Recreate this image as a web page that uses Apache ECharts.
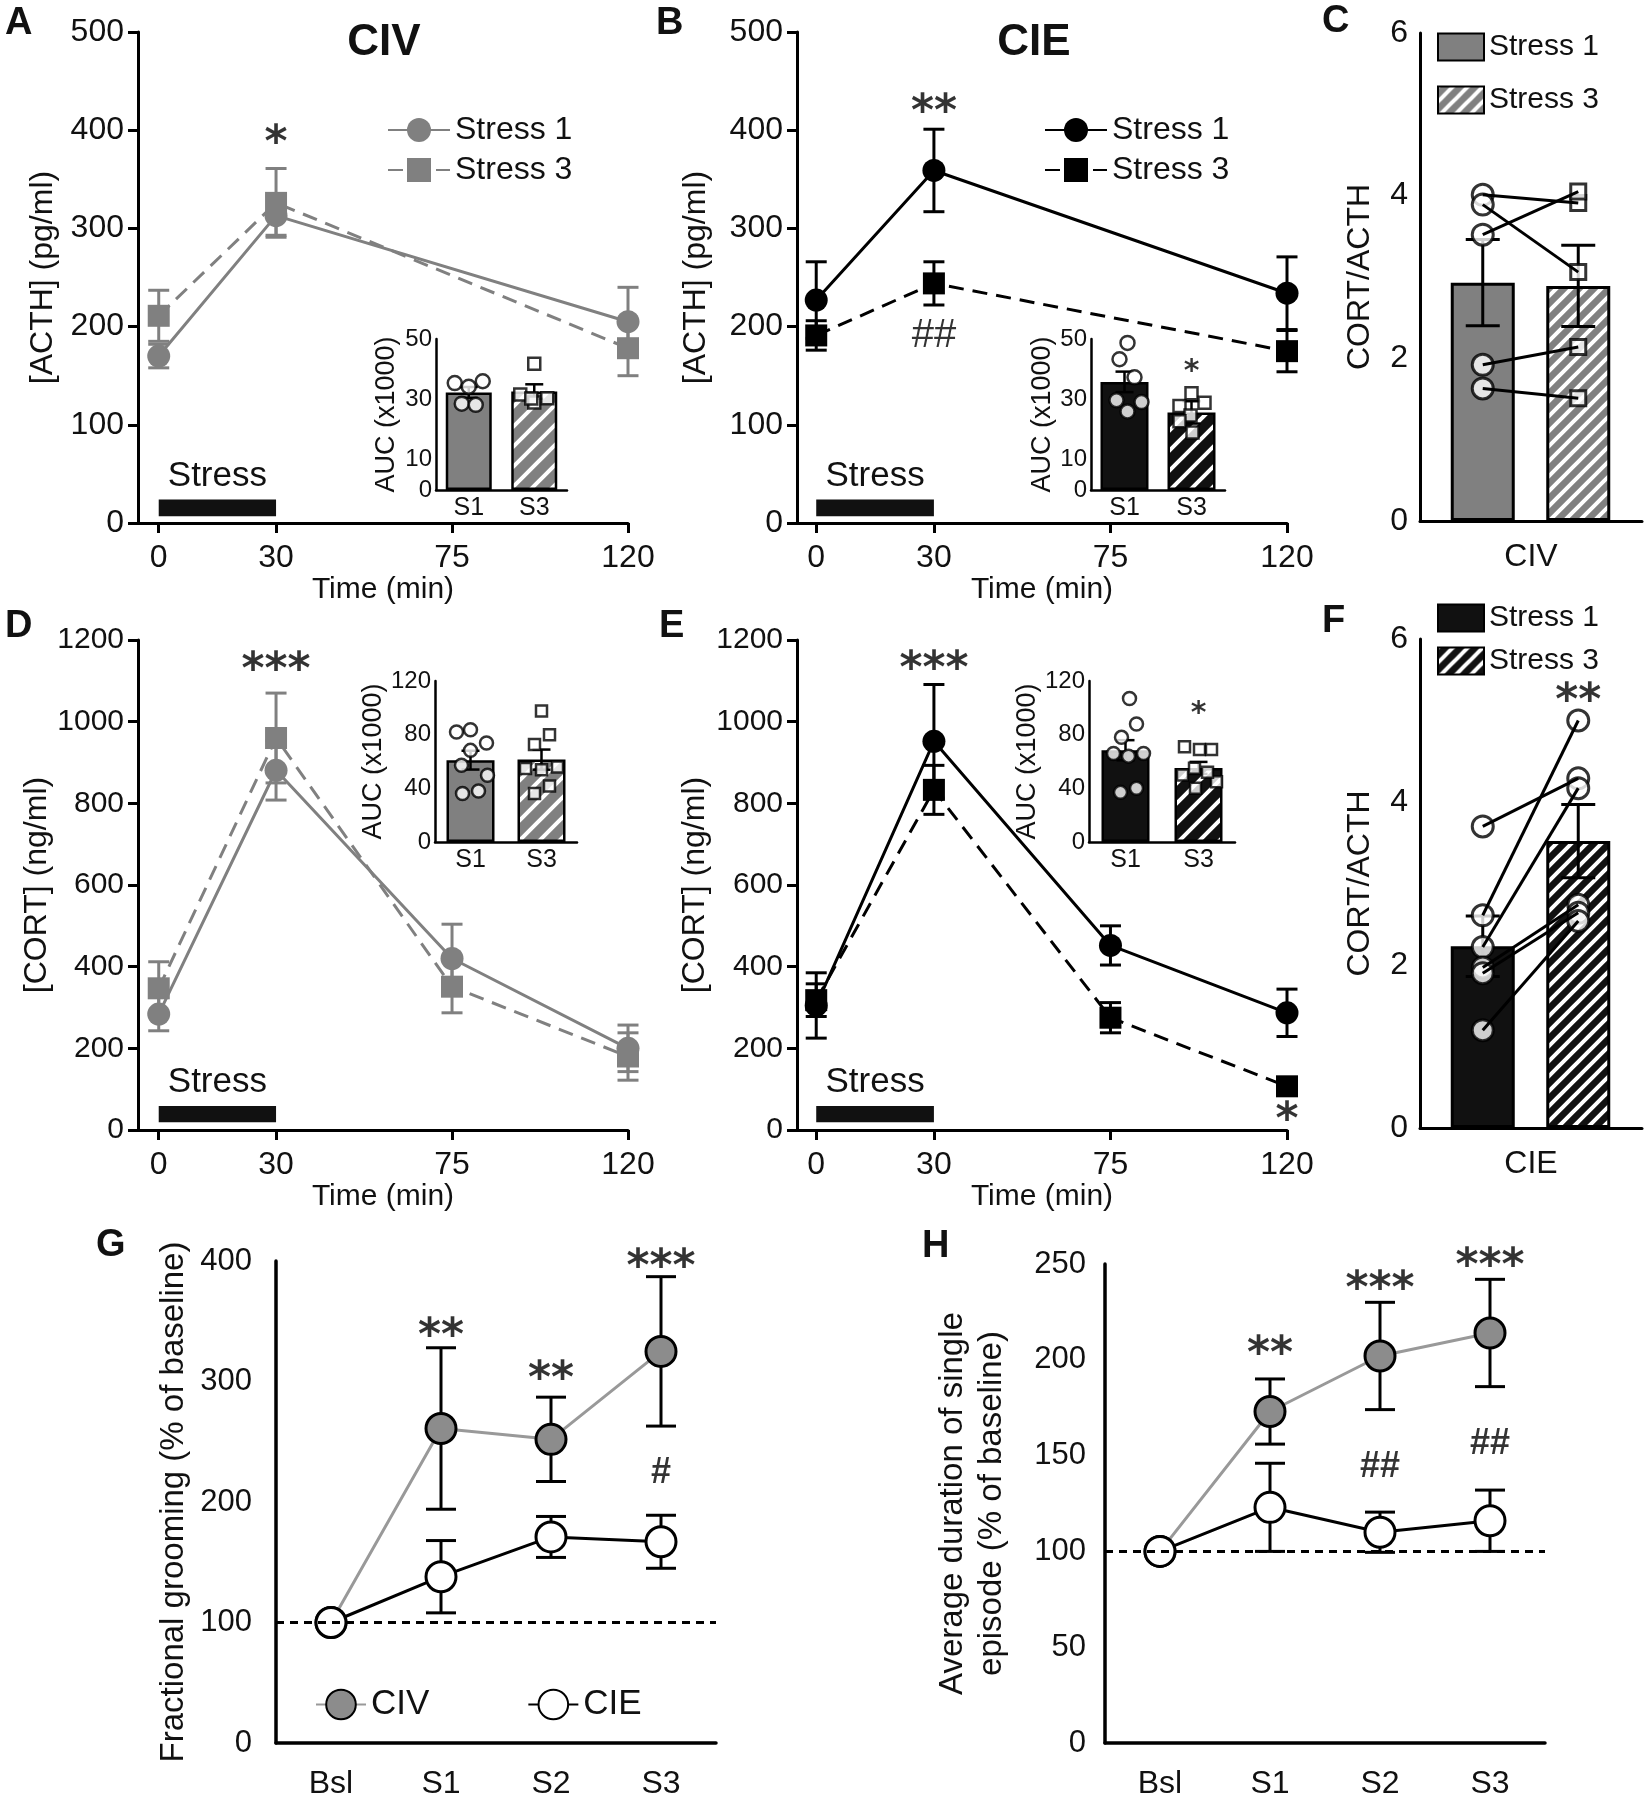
<!DOCTYPE html>
<html>
<head>
<meta charset="utf-8">
<script src="https://cdn.jsdelivr.net/npm/echarts@6/dist/echarts.min.js"></script>
<style>
  html, body { margin: 0; background: #fff; }
  #chart { width: 1647px; height: 1800px; }
</style>
</head>
<body>
<div id="chart"></div>
<script>
// ---- data ----
const timesAB = [0, 30, 120];
const timesDE = [0, 30, 75, 120];
const timeTicks = [0, 30, 75, 120];

// A: ACTH, CIV
const acthCivS1 = [170, 313, 205], acthCivS1Sem = [12, 20, 35];
const acthCivS3 = [211, 326, 178], acthCivS3Sem = [26, 35, 28];
// B: ACTH, CIE
const acthCieS1 = [227, 359, 234], acthCieS1Sem = [39, 42, 37];
const acthCieS3 = [191, 244, 175], acthCieS3Sem = [15, 22, 21];
// D: CORT, CIV
const cortCivS1 = [284, 881, 420, 200], cortCivS1Sem = [41, 73, 84, 57];
const cortCivS3 = [347, 960, 351, 180], cortCivS3Sem = [65, 110, 64, 58];
// E: CORT, CIE
const cortCieS1 = [305, 952, 452, 287], cortCieS1Sem = [80, 139, 48, 58];
const cortCieS3 = [318, 833, 275, 107], cortCieS3Sem = [40, 60, 37, 8];

// insets: AUC (x1000)
const aucLabels = ['S1', 'S3'];
const aucAMean = [32.3, 32.6], aucASem = [1.8, 2.4];
const aucAS1 = [35.4, 34.2, 36.0, 28.6, 28.2];
const aucAS3 = [41.8, 31.6, 30.4, 29.0, 30.3];
const aucBMean = [35.8, 25.7], aucBSem = [3.4, 3.7];
const aucBS1 = [48.7, 43.3, 37.3, 29.7, 29.1, 26.0];
const aucBS3 = [32.0, 27.8, 28.9, 24.7, 22.8, 19.0];
const aucDMean = [61.0, 61.4], aucDSem = [7.0, 7.5];
const aucDS1 = [82.0, 83.7, 73.8, 68.3, 57.2, 49.7, 36.1, 38.0];
const aucDS3 = [97.7, 80.0, 72.6, 54.7, 53.9, 55.9, 41.7, 36.1];
const aucEMean = [68.4, 55.2], aucESem = [7.5, 4.5];
const aucES1 = [107, 88, 78, 66, 66, 64, 37, 40];
const aucES3 = [71, 69, 69, 50, 55, 45, 40, 52];

// C / F: CORT/ACTH ratio, paired animals
const ratioCivMean = [2.93, 2.89], ratioCivSem = [0.53, 0.50];
const ratioCivS1 = [4.01, 3.89, 3.52, 1.92, 1.63];
const ratioCivS3 = [3.91, 3.06, 4.05, 2.14, 1.51];
const ratioCieMean = [2.23, 3.52], ratioCieSem = [0.37, 0.45];
const ratioCieS1 = [3.70, 2.61, 2.22, 1.97, 1.90, 1.20];
const ratioCieS3 = [4.29, 5.00, 4.17, 2.74, 2.64, 2.54];

// G / H: behaviour, % of baseline
const sessions = ['Bsl', 'S1', 'S2', 'S3'];
const groomCiv = [100, 261, 252, 325], groomCivSem = [0, 67, 35, 62];
const groomCie = [100, 138, 171, 167], groomCieSem = [0, 30, 17, 22];
const durCiv = [100, 173, 202, 214], durCivSem = [0, 17, 28, 28];
const durCie = [100, 123, 110, 116], durCieSem = [0, 23, 10.5, 16];

// horizontal scatter of the dots in the insets (px)
const jitA1 = [-14, 0, 14, -7, 7], jitA3 = [0, -14, 13, 0, -3];
const jitB1 = [3, -5, 10, -8, 17, 3], jitB3 = [0, -12, 13, -1, -12, 1];
const jitD1 = [-14, 0, 16, 0, -9, 17, -8, 8], jitD3 = [0, 8, -7, -16, 0, 16, 8, -7];
const jitE1 = [4, 11, -4, -12, 18, 3, -5, 11], jitE3 = [-14, 1, 13, -16, -4, 18, -3, 9];

// ---- styling ----
const FONT = '"Liberation Sans", Arial, sans-serif';
const STAR = '"DejaVu Sans", sans-serif';
const GRAY = '#808080';
const plain = (v) => String(v);

function hatch(bg, fg, size, lw) {
  const c = document.createElement('canvas');
  c.width = c.height = size;
  const g = c.getContext('2d');
  g.fillStyle = bg;
  g.fillRect(0, 0, size, size);
  g.strokeStyle = fg;
  g.lineWidth = lw;
  g.beginPath();
  g.moveTo(0, size); g.lineTo(size, 0);
  g.moveTo(-size / 2, size / 2); g.lineTo(size / 2, -size / 2);
  g.moveTo(size / 2, size * 1.5); g.lineTo(size * 1.5, size / 2);
  g.stroke();
  return {image: c, repeat: 'repeat'};
}
const hatchGray = hatch(GRAY, '#fff', 15, 4);
const hatchBlack = hatch('#111', '#fff', 15, 4);
const hatchGraySmall = hatch(GRAY, '#fff', 20, 4);
const hatchBlackSmall = hatch('#111', '#fff', 20, 4);

const txt = (size, weight) => ({fontSize: size, fontFamily: FONT, fontWeight: weight || 'normal', color: '#111'});
const axLine = (w) => ({show: true, onZero: false, lineStyle: {color: '#000', width: w}});

// ---- axes ----
function xTime(i, min) {
  return {
    gridIndex: i, type: 'value', min: min, max: 120,
    axisLine: axLine(3),
    axisTick: {customValues: timeTicks, length: 10, lineStyle: {color: '#000', width: 3}},
    axisLabel: Object.assign({customValues: timeTicks, margin: 19, formatter: plain}, txt(32)),
    splitLine: {show: false},
    name: 'Time (min)', nameLocation: 'middle', nameGap: 50, nameTextStyle: txt(30)
  };
}
function yMain(i, max, step, name, gap, size) {
  return {
    gridIndex: i, type: 'value', min: 0, max: max, interval: step,
    axisLine: axLine(3),
    axisTick: {length: 10, lineStyle: {color: '#000', width: 3}},
    axisLabel: Object.assign({margin: 14, formatter: plain}, txt(size)),
    splitLine: {show: false},
    name: name, nameLocation: 'middle', nameGap: gap, nameTextStyle: txt(32)
  };
}
function xInset(i) {
  return {
    gridIndex: i, type: 'category', data: aucLabels,
    axisLine: axLine(2.5), axisTick: {show: false},
    axisLabel: Object.assign({margin: 6}, txt(25))
  };
}
function yInset(i, max, ticks, gap) {
  return {
    gridIndex: i, type: 'value', min: 0, max: max,
    axisLine: axLine(2.5),
    axisTick: {customValues: ticks, length: 6, lineStyle: {color: '#000', width: 2.5}},
    axisLabel: Object.assign({customValues: ticks, margin: 4, formatter: plain}, txt(24)),
    splitLine: {show: false},
    name: 'AUC (x1000)', nameLocation: 'middle', nameGap: gap, nameTextStyle: txt(27)
  };
}
function xFrame(i, label) {
  return {
    gridIndex: i, type: 'category', data: [label],
    axisLine: axLine(3), axisTick: {show: false},
    axisLabel: Object.assign({margin: 20}, txt(32))
  };
}
function yRatio(i) {
  return {
    gridIndex: i, type: 'value', min: 0, max: 6, interval: 2,
    axisLine: axLine(3),
    axisTick: {length: 10, lineStyle: {color: '#000', width: 3}},
    axisLabel: Object.assign({margin: 12}, txt(32)),
    splitLine: {show: false},
    name: 'CORT/ACTH', nameLocation: 'middle', nameGap: 44, nameTextStyle: txt(32)
  };
}
const xHidden = (i) => ({gridIndex: i, type: 'category', data: aucLabels, show: false});
const yHidden = (i) => ({gridIndex: i, type: 'value', min: 0, max: 6, show: false});
function xSession(i) {
  return {
    gridIndex: i, type: 'category', data: sessions,
    axisLine: axLine(3.5),
    axisTick: {alignWithLabel: true, length: 14, lineStyle: {color: '#000', width: 3}},
    axisLabel: Object.assign({margin: 25}, txt(32))
  };
}
function ySession(i, max, step, name, gap, lh, margin) {
  return {
    gridIndex: i, type: 'value', min: 0, max: max, interval: step,
    axisLine: axLine(3.5),
    axisTick: {length: 12, lineStyle: {color: '#000', width: 3}},
    axisLabel: Object.assign({margin: margin}, txt(31)),
    splitLine: {show: false},
    name: name, nameLocation: 'middle', nameGap: gap,
    nameTextStyle: Object.assign({lineHeight: lh}, txt(33))
  };
}

// ---- series helpers ----
function errBars(i, xs, means, sems, color, cap, lw, z) {
  return {
    type: 'custom', xAxisIndex: i, yAxisIndex: i, z: z, silent: true, clip: false,
    data: means.map((m, k) => [xs[k], m - sems[k], m + sems[k]]),
    renderItem: (p, api) => {
      if (api.value(2) === api.value(1)) return;
      const top = api.coord([api.value(0), api.value(2)]);
      const bot = api.coord([api.value(0), api.value(1)]);
      const st = {stroke: color, lineWidth: lw};
      return {type: 'group', children: [
        {type: 'line', shape: {x1: top[0], y1: top[1], x2: bot[0], y2: bot[1]}, style: st},
        {type: 'line', shape: {x1: top[0] - cap / 2, y1: top[1], x2: top[0] + cap / 2, y2: top[1]}, style: st},
        {type: 'line', shape: {x1: bot[0] - cap / 2, y1: bot[1], x2: bot[0] + cap / 2, y2: bot[1]}, style: st}
      ]};
    }
  };
}
function timeLine(i, name, xs, ys, color, symbol, size, dashed, extra) {
  return Object.assign({
    type: 'line', name: name, xAxisIndex: i, yAxisIndex: i, z: 3,
    data: xs.map((t, k) => [t, ys[k]]),
    symbol: symbol, symbolSize: size,
    lineStyle: {color: color, width: 3, type: dashed ? [15, 9] : 'solid'},
    itemStyle: {color: color}
  }, extra || {});
}
function stressBar(low, high) {
  return {
    silent: true, itemStyle: {color: '#111'},
    label: {show: true, position: 'top', distance: 6, fontSize: 35, fontFamily: FONT, color: '#111'},
    data: [[{name: 'Stress', xAxis: 0, yAxis: low}, {xAxis: 30, yAxis: high}]]
  };
}
function notes(i, items, size, family, weight, dy) {
  return {
    type: 'scatter', xAxisIndex: i, yAxisIndex: i, silent: true, clip: false, z: 10,
    symbolSize: 1, itemStyle: {color: 'rgba(0,0,0,0)'},
    label: {show: true, position: 'inside', fontSize: size, fontFamily: family, fontWeight: weight || 'normal', color: '#000', offset: [0, dy || 0]},
    data: items.map(d => ({value: [d[0], d[1]], label: {formatter: d[2]}}))
  };
}
function inset(i, means, sems, s1, s3, j1, j3, fill1, fill3, bw, dot) {
  return [
    {type: 'bar', xAxisIndex: i, yAxisIndex: i, barWidth: bw, z: 2, silent: true,
     itemStyle: {borderColor: '#000', borderWidth: 2.5},
     data: [{value: means[0], itemStyle: {color: fill1}}, {value: means[1], itemStyle: {color: fill3}}]},
    errBars(i, [0, 1], means, sems, '#000', 18, 2.5, 3),
    {type: 'scatter', xAxisIndex: i, yAxisIndex: i, z: 4, silent: true, symbol: 'circle', symbolSize: dot,
     itemStyle: {color: '#fff', borderColor: '#000', borderWidth: 2.5},
     data: s1.map((v, k) => ({value: [0, v], symbolOffset: [j1[k], 0]}))},
    {type: 'scatter', xAxisIndex: i, yAxisIndex: i, z: 4, silent: true, symbol: 'rect', symbolSize: dot - 2,
     itemStyle: {color: '#fff', borderColor: '#000', borderWidth: 2.5},
     data: s3.map((v, k) => ({value: [1, v], symbolOffset: [j3[k], 0]}))}
  ];
}
function ratioPanel(i, prefix, means, sems, s1, s3, fill1, fill3, sym3, size3) {
  const out = [
    {type: 'bar', name: prefix + '|Stress 1', xAxisIndex: i, yAxisIndex: i, barWidth: 64, barGap: '-100%', z: 2,
     itemStyle: {color: fill1, borderColor: '#000', borderWidth: 3}, data: [means[0], '-']},
    {type: 'bar', name: prefix + '|Stress 3', xAxisIndex: i, yAxisIndex: i, barWidth: 64, barGap: '-100%', z: 2,
     itemStyle: {color: fill3, borderColor: '#000', borderWidth: 3}, data: ['-', means[1]]},
    errBars(i, [0, 1], means, sems, '#000', 34, 3, 3),
    {type: 'scatter', xAxisIndex: i, yAxisIndex: i, z: 4, silent: true, symbol: 'circle', symbolSize: 21,
     itemStyle: {color: '#fff', borderColor: '#000', borderWidth: 3}, data: s1.map(v => [0, v])},
    {type: 'scatter', xAxisIndex: i, yAxisIndex: i, z: 4, silent: true, symbol: sym3, symbolSize: size3,
     itemStyle: {color: '#fff', borderColor: '#000', borderWidth: 3}, data: s3.map(v => [1, v])}
  ];
  s1.forEach((v, k) => out.push({
    type: 'line', xAxisIndex: i, yAxisIndex: i, z: 5, silent: true, symbol: 'none',
    lineStyle: {color: '#000', width: 3}, data: [[0, v], [1, s3[k]]]
  }));
  return out;
}
const baseline = {
  silent: true, symbol: 'none', label: {show: false},
  lineStyle: {type: [8, 6], width: 3, color: '#000'}, data: [{yAxis: 100}]
};

// ---- layout ----
const grids = [
  {left: 138, top: 32, width: 490, height: 491},    // 0 A
  {left: 436, top: 339, width: 131, height: 151},   // 1 A inset
  {left: 797, top: 32, width: 490, height: 491},    // 2 B
  {left: 1091, top: 339, width: 134, height: 151},  // 3 B inset
  {left: 1420, top: 33, width: 222, height: 488},   // 4 C axes
  {left: 1435, top: 33, width: 191, height: 488},   // 5 C data
  {left: 138, top: 640, width: 490, height: 490},   // 6 D
  {left: 435, top: 681, width: 142, height: 161},   // 7 D inset
  {left: 797, top: 640, width: 490, height: 490},   // 8 E
  {left: 1089, top: 681, width: 146, height: 161},  // 9 E inset
  {left: 1420, top: 639, width: 222, height: 489},  // 10 F axes
  {left: 1435, top: 639, width: 191, height: 489},  // 11 F data
  {left: 276, top: 1261, width: 440, height: 482},  // 12 G
  {left: 1105, top: 1264, width: 440, height: 481}  // 13 H
];

const xAxes = [
  xTime(0, -5.3), xInset(1), xTime(2, -4.9), xInset(3), xFrame(4, 'CIV'), xHidden(5),
  xTime(6, -5.3), xInset(7), xTime(8, -4.9), xInset(9), xFrame(10, 'CIE'), xHidden(11),
  xSession(12), xSession(13)
];
const yAxes = [
  yMain(0, 500, 100, '[ACTH] (pg/ml)', 79, 32), yInset(1, 50, [0, 10, 30, 50], 36),
  yMain(2, 500, 100, '[ACTH] (pg/ml)', 85, 32), yInset(3, 50, [0, 10, 30, 50], 34),
  yRatio(4), yHidden(5),
  yMain(6, 1200, 200, '[CORT] (ng/ml)', 74, 30), yInset(7, 120, [0, 40, 80, 120], 46),
  yMain(8, 1200, 200, '[CORT] (ng/ml)', 86, 30), yInset(9, 120, [0, 40, 80, 120], 42),
  yRatio(10), yHidden(11),
  ySession(12, 400, 100, 'Fractional grooming (% of baseline)', 82, 40, 24),
  ySession(13, 250, 50, 'Average duration of single\nepisode (% of baseline)', 94, 39, 19)
];

const series = [
  // A
  errBars(0, timesAB, acthCivS1, acthCivS1Sem, GRAY, 21, 3, 2),
  errBars(0, timesAB, acthCivS3, acthCivS3Sem, GRAY, 21, 3, 2),
  timeLine(0, 'A|Stress 1', timesAB, acthCivS1, GRAY, 'circle', 23, false, {markArea: stressBar(7, 24)}),
  timeLine(0, 'A|Stress 3', timesAB, acthCivS3, GRAY, 'rect', 22, true),
  notes(0, [[30, 396, '*']], 44, STAR, 'bold', 10),
  ...inset(1, aucAMean, aucASem, aucAS1, aucAS3, jitA1, jitA3, GRAY, hatchGraySmall, 46, 14),
  // B
  errBars(2, timesAB, acthCieS1, acthCieS1Sem, '#000', 21, 3, 2),
  errBars(2, timesAB, acthCieS3, acthCieS3Sem, '#000', 21, 3, 2),
  timeLine(2, 'B|Stress 1', timesAB, acthCieS1, '#000', 'circle', 23, false, {markArea: stressBar(7, 24)}),
  timeLine(2, 'B|Stress 3', timesAB, acthCieS3, '#000', 'rect', 22, true),
  notes(2, [[30, 427, '**']], 44, STAR, 'bold', 10),
  notes(2, [[30, 190, '##']], 40, FONT),
  ...inset(3, aucBMean, aucBSem, aucBS1, aucBS3, jitB1, jitB3, '#111', hatchBlackSmall, 48, 14),
  notes(3, [[1, 41.2, '*']], 30, STAR, 'bold', 7),
  // C
  ...ratioPanel(5, 'C', ratioCivMean, ratioCivSem, ratioCivS1, ratioCivS3, GRAY, hatchGray, 'rect', 15),
  // D
  errBars(6, timesDE, cortCivS1, cortCivS1Sem, GRAY, 21, 3, 2),
  errBars(6, timesDE, cortCivS3, cortCivS3Sem, GRAY, 21, 3, 2),
  timeLine(6, 'D|Stress 1', timesDE, cortCivS1, GRAY, 'circle', 23, false, {markArea: stressBar(19, 59)}),
  timeLine(6, 'D|Stress 3', timesDE, cortCivS3, GRAY, 'rect', 22, true),
  notes(6, [[30, 1146, '***']], 44, STAR, 'bold', 10),
  ...inset(7, aucDMean, aucDSem, aucDS1, aucDS3, jitD1, jitD3, GRAY, hatchGraySmall, 48, 13),
  // E
  errBars(8, timesDE, cortCieS1, cortCieS1Sem, '#000', 21, 3, 2),
  errBars(8, timesDE, cortCieS3, cortCieS3Sem, '#000', 21, 3, 2),
  timeLine(8, 'E|Stress 1', timesDE, cortCieS1, '#000', 'circle', 23, false, {markArea: stressBar(19, 59)}),
  timeLine(8, 'E|Stress 3', timesDE, cortCieS3, '#000', 'rect', 22, true),
  notes(8, [[30, 1149, '***'], [120, 45, '*']], 44, STAR, 'bold', 10),
  ...inset(9, aucEMean, aucESem, aucES1, aucES3, jitE1, jitE3, '#111', hatchBlackSmall, 48, 13),
  notes(9, [[1, 100.8, '*']], 30, STAR, 'bold', 7),
  // F
  ...ratioPanel(11, 'F', ratioCieMean, ratioCieSem, ratioCieS1, ratioCieS3, '#111', hatchBlack, 'circle', 21),
  notes(11, [[1, 5.34, '**']], 44, STAR, 'bold', 10),
  // G
  errBars(12, [0, 1, 2, 3], groomCiv, groomCivSem, '#000', 30, 3, 2),
  errBars(12, [0, 1, 2, 3], groomCie, groomCieSem, '#000', 30, 3, 2),
  {type: 'line', name: 'G|CIV', xAxisIndex: 12, yAxisIndex: 12, z: 3, data: groomCiv, symbol: 'circle', symbolSize: 30,
   lineStyle: {color: '#999', width: 3}, itemStyle: {color: '#8c8c8c', borderColor: '#000', borderWidth: 3}, markLine: baseline},
  {type: 'line', name: 'G|CIE', xAxisIndex: 12, yAxisIndex: 12, z: 3, data: groomCie, symbol: 'circle', symbolSize: 30,
   lineStyle: {color: '#000', width: 3}, itemStyle: {color: '#fff', borderColor: '#000', borderWidth: 3}},
  notes(12, [[1, 346, '**'], [2, 310, '**'], [3, 403, '***']], 44, STAR, 'bold', 11),
  notes(12, [[3, 224, '#']], 36, FONT, 'bold'),
  // H
  errBars(13, [0, 1, 2, 3], durCiv, durCivSem, '#000', 30, 3, 2),
  errBars(13, [0, 1, 2, 3], durCie, durCieSem, '#000', 30, 3, 2),
  {type: 'line', name: 'H|CIV', xAxisIndex: 13, yAxisIndex: 13, z: 3, data: durCiv, symbol: 'circle', symbolSize: 30,
   lineStyle: {color: '#999', width: 3}, itemStyle: {color: '#8c8c8c', borderColor: '#000', borderWidth: 3}, markLine: baseline},
  {type: 'line', name: 'H|CIE', xAxisIndex: 13, yAxisIndex: 13, z: 3, data: durCie, symbol: 'circle', symbolSize: 30,
   lineStyle: {color: '#000', width: 3}, itemStyle: {color: '#fff', borderColor: '#000', borderWidth: 3}},
  notes(13, [[1, 208, '**'], [2, 242, '***'], [3, 254, '***']], 44, STAR, 'bold', 11),
  notes(13, [[2, 144, '##'], [3, 156, '##']], 36, FONT, 'bold')
];

const legendName = (n) => n.split('|')[1];
const legends = [
  {data: ['A|Stress 1', 'A|Stress 3'], left: 382, top: 109, orient: 'vertical', itemWidth: 62, itemHeight: 30, itemGap: 8,
   formatter: legendName, textStyle: txt(32), selectedMode: false},
  {data: ['B|Stress 1', 'B|Stress 3'], left: 1039, top: 109, orient: 'vertical', itemWidth: 62, itemHeight: 30, itemGap: 8,
   formatter: legendName, textStyle: txt(32), selectedMode: false},
  {data: ['C|Stress 1', 'C|Stress 3'], left: 1432, top: 27, orient: 'vertical', icon: 'rect', itemWidth: 46, itemHeight: 27, itemGap: 23,
   formatter: legendName, textStyle: txt(30), selectedMode: false},
  {data: ['F|Stress 1', 'F|Stress 3'], left: 1432, top: 598, orient: 'vertical', icon: 'rect', itemWidth: 46, itemHeight: 27, itemGap: 13,
   formatter: legendName, textStyle: txt(30), selectedMode: false},
  {data: ['G|CIV', 'G|CIE'], left: 310, top: 1682, orient: 'horizontal', itemWidth: 50, itemHeight: 37, itemGap: 98,
   formatter: legendName, textStyle: txt(35), selectedMode: false}
];

const letterFont = 'bold 38px ' + FONT;
const headFont = 'bold 44px ' + FONT;
const label = (text, x, y, font, align) => ({
  type: 'text', x: x, y: y, silent: true,
  style: {text: text, font: font, fill: '#111', align: align || 'left', verticalAlign: 'top'}
});
const graphics = [
  label('A', 5, 5, letterFont), label('B', 656, 5, letterFont), label('C', 1322, 3, letterFont),
  label('D', 5, 608, letterFont), label('E', 659, 608, letterFont), label('F', 1322, 603, letterFont),
  label('G', 96, 1227, letterFont), label('H', 922, 1228, letterFont),
  label('CIV', 384, 21, headFont, 'center'), label('CIE', 1034, 21, headFont, 'center')
];

const chart = echarts.init(document.getElementById('chart'));
chart.setOption({
  animation: false,
  backgroundColor: '#fff',
  grid: grids,
  xAxis: xAxes,
  yAxis: yAxes,
  legend: legends,
  graphic: graphics,
  series: series
});
</script>
</body>
</html>
